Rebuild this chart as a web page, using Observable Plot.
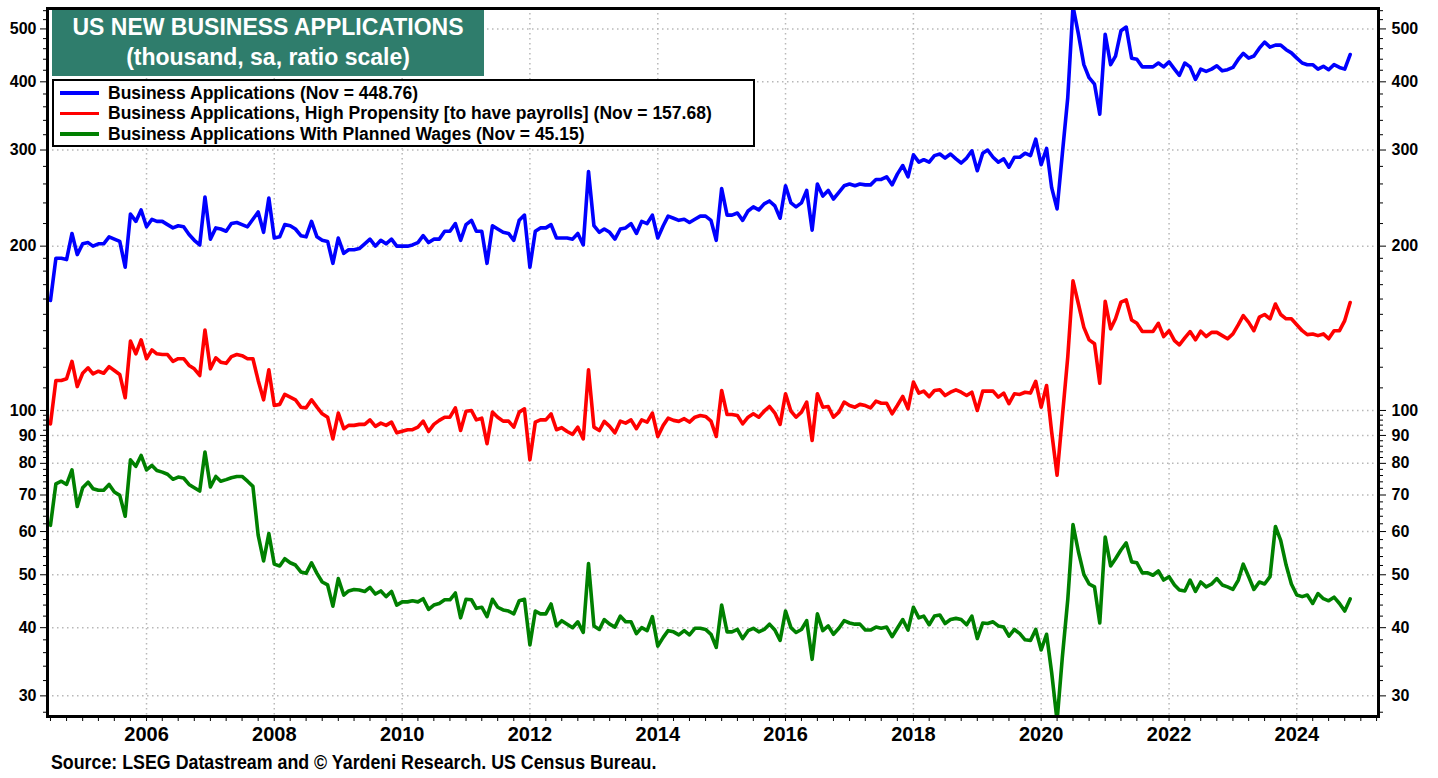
<!DOCTYPE html>
<html><head><meta charset="utf-8">
<script src="https://cdn.jsdelivr.net/npm/d3@7"></script>
<script src="https://cdn.jsdelivr.net/npm/@observablehq/plot@0.6"></script>
<style>
body{margin:0;background:#fff;}
#wrap{position:relative;width:1438px;height:778px;overflow:hidden;font-family:"Liberation Sans",Arial,sans-serif;font-weight:bold;color:#000;}
#chart{position:absolute;left:0;top:0;}
#title{position:absolute;left:52px;top:10px;width:432px;height:66px;background:#2F7D6C;color:#fff;text-align:center;}
#title .l1{position:absolute;left:0;right:0;top:4px;font-size:23px;line-height:26px;}
#title .l2{position:absolute;left:0;right:0;top:34px;font-size:23px;line-height:26px;}
#legend{position:absolute;left:52px;top:79px;width:703px;height:68px;border:2px solid #000;background:#fff;box-sizing:border-box;font-size:17.5px;}
.item{position:absolute;left:6px;height:20px;display:flex;align-items:center;white-space:nowrap;}
.sw{width:39px;height:3.5px;margin-right:9px;}
#source{position:absolute;left:51px;top:751px;font-size:20px;white-space:nowrap;transform:scaleX(0.89);transform-origin:0 0;}
</style></head>
<body>
<div id="wrap">
  <div id="chart"></div>
  <div id="title"><div class="l1"></div><div class="l2"></div></div>
  <div id="legend"></div>
  <div id="source"></div>
</div>
<script>
// ---- data (monthly, Jul 2004 .. Nov 2024), thousands, seasonally adjusted ----
const firstMonth = "2004-07-01";
const seriesNames = [
  "Business Applications (Nov = 448.76)",
  "Business Applications, High Propensity [to have payrolls] (Nov = 157.68)",
  "Business Applications With Planned Wages (Nov = 45.15)"
];
const seriesColors = ["#0000FF", "#FF0000", "#008000"];

const businessApps = [
159,190,190,189,211,193,202,203,200,202,202,208,206,204,183,229,222,233,217,224,
222,222,219,216,218,217,210,205,201,246,206,216,215,213,220,221,219,217,224,231,
212,245,207,208,219,218,215,209,208,222,208,205,204,186,207,194,197,197,198,202,
206,200,205,202,206,200,200,200,201,203,209,203,206,206,213,213,220,205,219,223,
213,213,186,
218,215,212,211,205,223,228,183,213,216,216,219,207,207,207,206,211,201,274,218,
212,215,212,206,215,216,220,211,222,220,228,207,218,227,225,223,224,221,224,227,
227,223,205,255,228,228,230,223,232,236,233,239,242,237,225,258,240,236,240,253,
214,260,247,253,244,251,258,260,258,260,259,259,265,265,268,259,271,281,268,294,
285,288,285,
293,295,290,295,289,284,290,299,275,296,300,291,285,289,279,291,291,296,293,314,
282,302,256,234,295,374,550,489,430,407,396,349,489,430,446,496,504,442,440,426,
426,426,433,426,435,422,411,433,426,404,422,418,422,428,419,421,425,440,451,442,
446,461,473,463,467,467,458,452,442,433,430,430,422,427,421,430,425,422,448.76
];
const highPropensity = [
94.5,113.5,113.5,114.3,123,110.6,117,119.7,116.7,118,117,120.3,118.4,116.4,105.5,134,127,134.7,124.4,129.1,
127,126.6,126.6,123,124.4,124.4,120.9,119.2,115.9,140.4,119.2,124.9,122.6,122,125.5,126.6,126,124.4,124.4,113.5,
104.6,118.7,102.1,102.6,107,105.8,104.6,101.4,101.1,104.6,101.4,98.6,97.2,88.7,98.9,92.6,93.9,93.9,94.3,94.3,
96.1,93.5,94.8,93.9,95.2,91,91.6,92.2,92.2,93.2,95.6,91.5,94.3,95.9,97.2,97.2,101.1,91.9,99.7,100,
96.1,96.8,86.9,
99.3,97.2,95.6,95.6,93.2,99.3,100.7,81.2,95.2,96.1,96.1,98.6,92.2,93,91.5,90.4,93.2,88.7,118.7,93.2,
91.9,95.5,93.5,91,95.6,94.8,96.1,92.6,96.1,95.2,98.9,89.6,93.9,96.8,95.9,95.5,96.6,95.2,97.2,97.9,
97.5,95.6,89.6,108.8,98.3,98.3,97.9,94.5,97.2,98.6,97.2,99.7,101.7,98.9,94.3,107.3,99.7,97.2,99.3,103.6,
88.1,107.3,101.4,101.7,97.2,99.3,103.6,102.1,101.4,102.6,102.1,101.1,104,103.1,103.1,98.6,102.1,106.1,100.7,112.7,
107.6,108.5,106,
108.8,109.1,106.5,108,109.1,108,106.5,108,100,108.5,108.5,108.5,105.8,107.6,102.9,107.3,107,108,107.6,113.1,
101.4,111.1,91.3,76.1,97.2,125.2,172.8,156.7,142,134.7,132.5,112.2,158.5,141.1,147.2,157.9,159.4,146.5,144.4,139.5,
139.5,139.5,144.4,136.6,140,134.3,131.9,135.8,139.5,134.7,139.7,136.6,139,139,137.1,135.3,138.1,143.6,149.2,145,
140,148.2,149.9,147.2,156.7,149.9,147.2,147.2,143.6,140,137.7,138.1,137.1,138.1,135.3,140,140,146.1,157.68
];
const plannedWages = [
61.6,73.4,74.2,73.2,77.8,66.7,72.2,73.9,71.9,71.4,71.4,73.2,70.9,69.9,64,81.2,79,82.7,77.8,79.3,
77.6,77.1,76.4,74.8,75.5,75.2,73.2,72.2,71.2,83.9,72.4,75.7,74.2,74.7,75.3,75.7,75.7,74.2,72.6,59.1,
53,59.5,52.3,51.9,53.5,52.6,52.1,50.6,50.3,52.6,50.3,48.5,47.9,43.8,49.2,45.9,46.7,47,46.9,46.6,
47.4,46.1,46.7,45.6,46.6,44,44.6,44.6,44.8,44.6,45.2,43.2,44,44.3,45,45,46.3,41.7,45.1,45,
43.4,43.6,41.9,
45.1,43.6,43.1,42.9,42.4,44.8,45.1,37.2,42.9,42.4,42.4,44.2,40.3,41.2,40.6,40,41,39.2,52.4,40.3,
39.7,41.4,40.6,40.1,42,41,41,39,40,39.5,41.9,37,38.4,39.5,39.3,38.8,39.5,38.8,39.9,39.9,
39.7,38.9,36.8,44,39.3,39.3,39.7,38.2,39.5,39.9,39.3,39.7,40.6,39.6,37.9,42.9,40,39.2,39.7,41.2,
35,42.4,39.5,40.3,38.9,39.9,41.2,40.8,40.6,40.6,39.6,39.6,40.1,39.9,40.1,38.5,39.9,41.4,39.6,43.6,
41.7,42,40.5,
42,42.2,40.7,41.4,41.6,41.4,40.5,42,38.2,40.8,40.7,41,40.3,40.1,38.6,39.7,39,38,37.9,39.7,
36.4,38.9,33.1,27,35.3,45,61.8,55.1,50.1,48.1,47.5,40.8,58.6,51.9,53.5,55.5,57.2,52.8,52.6,50.4,
50.4,49.9,50.8,48.9,49.6,47.9,46.9,46.7,48.9,46.6,48.5,47.5,48.1,49.2,47.9,47.5,47,48.9,52.3,49.6,
47,48.5,48.1,49.6,61.3,57.8,52.1,48.1,45.9,45.6,45.9,44.3,46.2,45.2,44.8,45.5,44.3,42.9,45.15
];

const yTickValues = [30,40,50,60,70,80,90,100,200,300,400,500];
const yMinorValues = [28,32,34,36,38,42,44,46,48,52,54,56,58,62,64,66,68,72,74,76,78,82,84,86,88,92,94,96,98,
  110,120,130,140,150,160,170,180,190,220,240,260,280,320,340,360,380,420,440,460,480,520,540];
const xLabelYears = [2006,2008,2010,2012,2014,2016,2018,2020,2022,2024];
const xDomain = ["2004-06-14","2025-04-12"];
const titleLines = ["US NEW BUSINESS APPLICATIONS","(thousand, sa, ratio scale)"];
const sourceText = "Source: LSEG Datastream and \u00A9 Yardeni Research. US Census Bureau.";

// ---- build ----
const start = new Date(firstMonth + "T00:00:00Z");
const allSeries = [businessApps, highPropensity, plannedWages];
const data = [];
allSeries.forEach((vals, s) => {
  vals.forEach((v, i) => data.push({date: d3.utcMonth.offset(start, i), value: v, series: seriesNames[s]}));
});
const yearDate = y => new Date(Date.UTC(y,0,1));
const xd = xDomain.map(s => new Date(s + "T00:00:00Z"));
const quarterTicks = d3.utcMonth.every(3).range(xd[0], xd[1]);
const labelTicks = xLabelYears.map(yearDate);

const chart = Plot.plot({
  width: 1438, height: 778,
  marginLeft: 47, marginRight: 60, marginTop: 8, marginBottom: 62,
  x: {type: "utc", domain: xd},
  y: {type: "log", domain: [27.5, 545]},
  color: {domain: seriesNames, range: seriesColors},
  style: {fontFamily: "'Liberation Sans', Arial, sans-serif", fontWeight: "bold", fontSize: "16px", color: "#000", background: "#fff", overflow: "visible"},
  marks: [
    Plot.gridY(yTickValues, {stroke: "#b8b8b8", strokeOpacity: 1, strokeWidth: 1.5, strokeDasharray: "1.5,3.5"}),
    Plot.gridX(labelTicks, {stroke: "#b8b8b8", strokeOpacity: 1, strokeWidth: 1.5, strokeDasharray: "1.5,3.5"}),
    Plot.axisY(yMinorValues, {anchor: "left", tickSize: 4, tickFormat: () => "", label: null}),
    Plot.axisY(yMinorValues, {anchor: "right", tickSize: 4, tickFormat: () => "", label: null}),
    Plot.axisY(yTickValues, {anchor: "left", tickSize: 7, tickPadding: 4, tickFormat: d => String(d), label: null, fontSize: 16}),
    Plot.axisY(yTickValues, {anchor: "right", tickSize: 7, tickPadding: 6, tickFormat: d => String(d), label: null, fontSize: 16}),
    Plot.axisX(quarterTicks, {anchor: "bottom", tickSize: 5, tickFormat: () => "", label: null}),
    Plot.axisX(labelTicks, {anchor: "bottom", tickSize: 0, tickPadding: 10, tickFormat: "%Y", label: null, fontSize: 20, ariaLabel: "x-year-labels"}),
    Plot.lineY(data, {x: "date", y: "value", z: "series", stroke: "series", strokeWidth: 3.6, clip: true}),
    Plot.frame({stroke: "#000", strokeWidth: 3})
  ]
});
// narrow the year labels to match the condensed face of the original
d3.select(chart).selectAll('g[aria-label="x-year-labels"] text')
  .attr("textLength", 38).attr("lengthAdjust", "spacingAndGlyphs");
document.getElementById("chart").appendChild(chart);

document.querySelector("#title .l1").textContent = titleLines[0];
document.querySelector("#title .l2").textContent = titleLines[1];
document.getElementById("source").textContent = sourceText;
const leg = document.getElementById("legend");
seriesNames.forEach((n, i) => {
  const it = document.createElement("div");
  it.className = "item";
  it.style.top = (2 + i * 20.5) + "px";
  const sw = document.createElement("span");
  sw.className = "sw"; sw.style.background = seriesColors[i];
  const tx = document.createElement("span"); tx.textContent = n;
  it.appendChild(sw); it.appendChild(tx); leg.appendChild(it);
});
</script>
</body></html>
